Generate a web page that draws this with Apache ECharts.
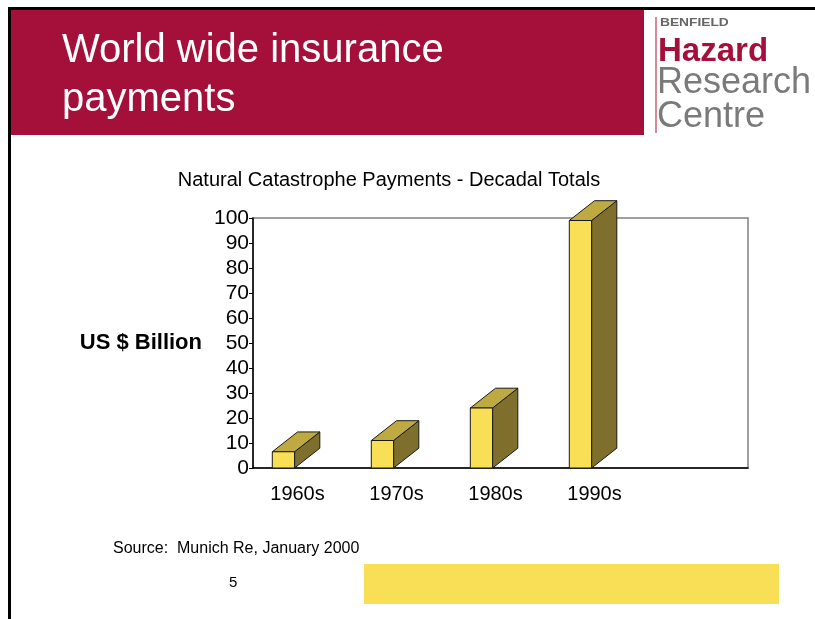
<!DOCTYPE html>
<html>
<head>
<meta charset="utf-8">
<script src="https://cdn.jsdelivr.net/npm/echarts@6/dist/echarts.min.js"></script>
<style>
  html, body { margin: 0; padding: 0; background: #fff; }
  #main { width: 815px; height: 619px; }
</style>
</head>
<body>
<div id="main"></div>
<script>
// decades and payment totals (US $ billion)
var decades = ['1960s', '1970s', '1980s', '1990s'];
var payments = [6.5, 11, 24, 99];
var yTicks = [0, 10, 20, 30, 40, 50, 60, 70, 80, 90, 100];

var FONT = '"Liberation Sans", Arial, sans-serif';
var crimson = '#A4103A';

var myChart = echarts.init(document.getElementById('main'));

// 3D-looking column: front, top and side faces
function drawBox(params, api) {
  var topPt = api.coord([api.value(0), api.value(1)]);
  var basePt = api.coord([api.value(0), 0]);
  var band = api.size([1, 0])[0];
  var x0 = topPt[0] - band * 0.305;
  var x1 = topPt[0] - band * 0.08;
  var dx = band * 0.255, dy = band * 0.2;
  var yt = topPt[1], yb = basePt[1];
  var line = { stroke: '#1a1a1a', lineWidth: 1 };
  return {
    type: 'group',
    children: [
      { type: 'polygon', shape: { points: [[x1, yt], [x1 + dx, yt - dy], [x1 + dx, yb - dy], [x1, yb]] },
        style: Object.assign({ fill: '#7E702C' }, line) },
      { type: 'polygon', shape: { points: [[x0, yt], [x1, yt], [x1 + dx, yt - dy], [x0 + dx, yt - dy]] },
        style: Object.assign({ fill: '#BFAA42' }, line) },
      { type: 'rect', shape: { x: x0, y: yt, width: x1 - x0, height: yb - yt },
        style: Object.assign({ fill: '#F9DF55' }, line) }
    ]
  };
}

myChart.setOption({
  animation: false,
  title: {
    text: 'Natural Catastrophe Payments - Decadal Totals',
    left: 384, top: 165, textAlign: 'center',
    textStyle: { fontFamily: FONT, fontSize: 20, fontWeight: 'normal', color: '#000' }
  },
  grid: {
    left: 253, top: 218, width: 495, height: 250,
    show: true, borderColor: '#808080', borderWidth: 1.5, backgroundColor: '#fff'
  },
  xAxis: {
    type: 'category',
    data: decades.concat(['']),
    axisLine: { lineStyle: { color: '#000', width: 1.5 } },
    axisTick: { show: false },
    axisLabel: { fontFamily: FONT, fontSize: 20, color: '#000', margin: 16, padding: [0, 10, 0, 0] }
  },
  yAxis: {
    type: 'value', min: 0, max: 100, interval: 10,
    axisLine: { show: true, lineStyle: { color: '#000', width: 1.5 } },
    axisTick: { show: true, length: 4, lineStyle: { color: '#000' } },
    splitLine: { show: false },
    axisLabel: {
      fontFamily: FONT, fontSize: 21, color: '#000', margin: 4,
      formatter: function (v) { return yTicks.indexOf(v) >= 0 ? String(v) : ''; }
    },
    name: 'US $ Billion', nameLocation: 'middle', nameRotate: 0, nameGap: 51,
    nameTextStyle: { fontFamily: FONT, fontSize: 22, fontWeight: 'bold', color: '#000' }
  },
  series: [{
    type: 'custom',
    renderItem: drawBox,
    data: payments.map(function (v, i) { return [i, v]; })
  }],
  graphic: [
    { type: 'rect', shape: { x: 8, y: 7, width: 807, height: 3 }, style: { fill: '#000' } },
    { type: 'rect', shape: { x: 8, y: 7, width: 3, height: 612 }, style: { fill: '#000' } },
    { type: 'rect', shape: { x: 11, y: 10, width: 633, height: 125 }, style: { fill: crimson } },
    { type: 'text', left: 62, top: 31, style: { text: 'World wide insurance', fill: '#fff', font: '40px ' + FONT } },
    { type: 'text', left: 62, top: 80, style: { text: 'payments', fill: '#fff', font: '40px ' + FONT } },
    // logo
    { type: 'rect', shape: { x: 655, y: 17, width: 2, height: 116 }, style: { fill: '#D7899B' } },
    { type: 'text', x: 660, y: 17, scaleX: 1.25, style: { text: 'BENFIELD', fill: '#666', font: 'bold 11px ' + FONT } },
    { type: 'text', x: 658, y: 35, style: { text: 'Hazard', fill: crimson, font: 'bold 33px ' + FONT } },
    { type: 'text', x: 657, y: 65, style: { text: 'Research', fill: '#7a7a7a', font: '36px ' + FONT } },
    { type: 'text', x: 657, y: 99, style: { text: 'Centre', fill: '#7a7a7a', font: '36px ' + FONT } },
    // footer
    { type: 'text', left: 113, top: 541, style: { text: 'Source:  Munich Re, January 2000', fill: '#000', font: '16px ' + FONT } },
    { type: 'text', left: 229, top: 575, style: { text: '5', fill: '#000', font: '15px ' + FONT } },
    { type: 'rect', shape: { x: 364, y: 564, width: 415, height: 40 }, style: { fill: '#F9DF55' } }
  ]
});
</script>
</body>
</html>
